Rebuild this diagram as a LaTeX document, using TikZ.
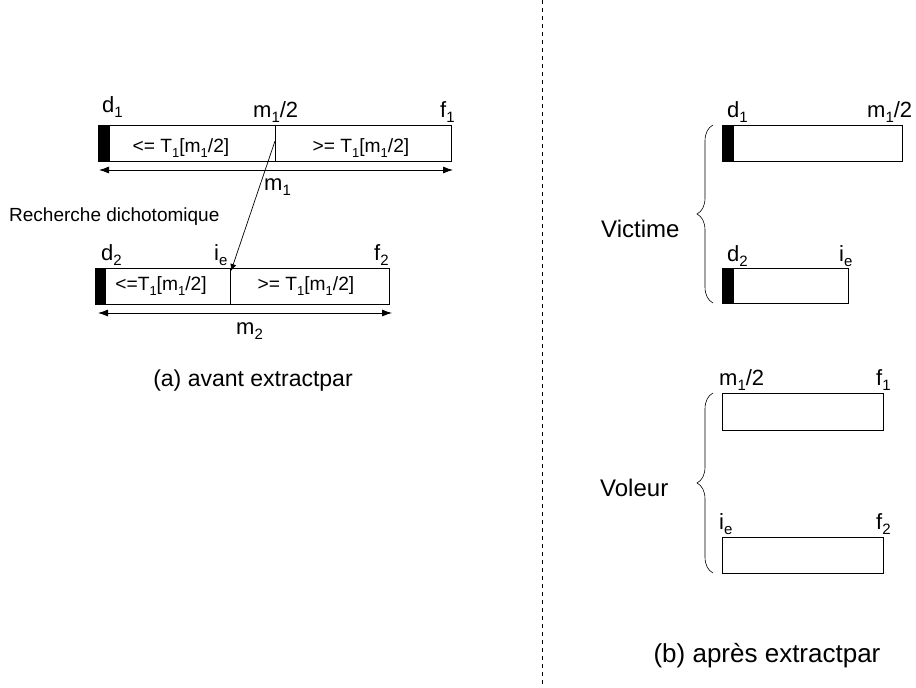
\documentclass[tikz,border=0pt]{standalone}
\usepackage{fontspec}
\setmainfont{Liberation Sans}
\usetikzlibrary{arrows.meta,decorations.pathreplacing}
\newcommand{\lo}[2]{\raisebox{-0.45ex}{\fontsize{#1}{#1}\selectfont #2}}
\begin{document}
\begin{tikzpicture}[x=1pt,y=-1pt,
  bar/.style={draw,line width=0.8pt},
  blk/.style={fill=black},
  lbl/.style={anchor=base west,inner sep=0pt,font=\fontsize{22}{24}\selectfont},
  inl/.style={inner sep=0pt,font=\fontsize{19.2}{21}\selectfont},
  captxt/.style={inner sep=0pt,font=\fontsize{23}{26}\selectfont},
  dim/.style={line width=0.8pt,{Latex[length=10pt,width=7pt]}-{Latex[length=10pt,width=7pt]}},
  brc/.style={decorate,decoration={brace,amplitude=16pt},line width=0.6pt}]
\useasboundingbox (0,0) rectangle (916,688);
% dashed separator
\draw[dashed,dash pattern=on 4pt off 4pt,line width=0.7pt] (542,0) -- (542,688);

% ---------- (a) top bar ----------
\fill[blk] (98,125) rectangle (110,161);
\draw[bar] (98,125) rectangle (451,161);
\draw[line width=0.8pt] (275,125) -- (275,161);
\coordinate (div1) at (275,141);
\node[inl] (t1l) at (181,148) {<= T\lo{13}{1}[m\lo{13}{1}/2]};
\node[inl] (t1r) at (361,148) {>= T\lo{13}{1}[m\lo{13}{1}/2]};
\node[lbl] (d1) at (102,112) {d\lo{15}{1}};
\node[lbl] (m12) at (253,117) {m\lo{15}{1}/2};
\node[lbl] (f1) at (440,117) {f\lo{15}{1}};
\coordinate (a1l) at (99,170);
\coordinate (a1r) at (453,170);
\draw[dim] (a1l) -- (a1r);
\node[lbl] (m1) at (264,190) {m\lo{15}{1}};

\node[anchor=base west,inner sep=0pt,font=\fontsize{19}{21}\selectfont] (rech) at (9,221) {Recherche dichotomique};

% ---------- (a) bottom bar ----------
\fill[blk] (95,268) rectangle (106,304);
\draw[bar] (95,268) rectangle (389,304);
\draw[line width=0.8pt] (230,268) -- (230,304);
\coordinate (ie0) at (231,271);
\node[inl] (t2l) at (161,286) {<=T\lo{13}{1}[m\lo{13}{1}/2]};
\node[inl] (t2r) at (306,286) {>= T\lo{13}{1}[m\lo{13}{1}/2]};
\node[lbl] (d2) at (101,260) {d\lo{15}{2}};
\node[lbl] (ie) at (214,260) {i\lo{15}{e}};
\node[lbl] (f2) at (374,260) {f\lo{15}{2}};
\coordinate (a2l) at (98,313);
\coordinate (a2r) at (392,313);
\draw[dim] (a2l) -- (a2r);
\node[lbl] (m2) at (236,334) {m\lo{15}{2}};

\draw[line width=0.7pt,-{Latex[length=7pt,width=6pt]}] (div1) -- (ie0);

\node[captxt] (capa) at (253,381) {(a) avant extractpar};

% ---------- (b) Victime ----------
\fill[blk] (722,125) rectangle (734,161);
\draw[bar] (722,125) rectangle (902,161);
\node[lbl] (vd1) at (727,117) {d\lo{15}{1}};
\node[lbl] (vm12) at (867,117) {m\lo{15}{1}/2};
\fill[blk] (722,268) rectangle (734,303);
\draw[bar] (722,268) rectangle (848,303);
\node[lbl] (vd2) at (727,261) {d\lo{15}{2}};
\node[lbl] (vie) at (839,261) {i\lo{15}{e}};
\draw[brc] (713,303) -- (713,125);
\node[lbl,font=\fontsize{24}{26}\selectfont] (vict) at (601,237) {Victime};

% ---------- (b) Voleur ----------
\draw[bar] (722,393) rectangle (883,430);
\node[lbl] (lm12) at (719,385) {m\lo{15}{1}/2};
\node[lbl] (lf1) at (876,385) {f\lo{15}{1}};
\draw[bar] (722,537) rectangle (883,573);
\node[lbl] (lie) at (719,529) {i\lo{15}{e}};
\node[lbl] (lf2) at (876,529) {f\lo{15}{2}};
\draw[brc] (713,573) -- (713,393);
\node[lbl,font=\fontsize{24}{26}\selectfont] (vol) at (600,496) {Voleur};

\node[captxt,font=\fontsize{26}{28}\selectfont] (capb) at (767,656) {(b) après extractpar};
\end{tikzpicture}
\end{document}
